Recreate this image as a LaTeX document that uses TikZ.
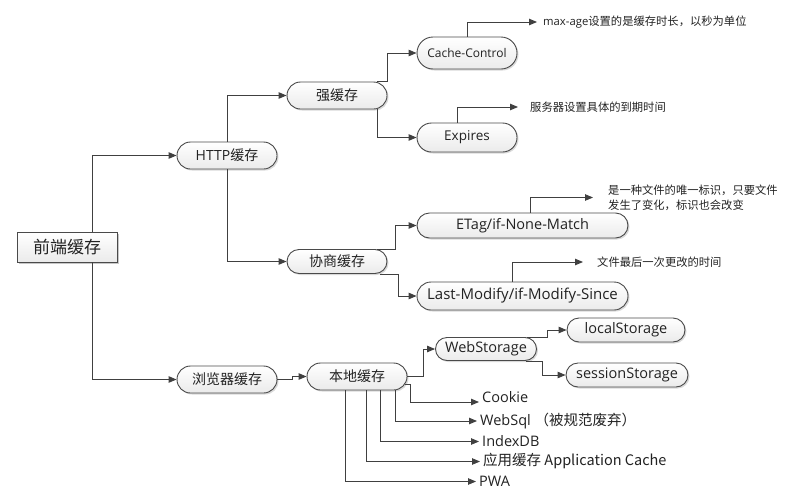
\documentclass[tikz,border=0pt]{standalone}
\usepackage{fontspec}
\setmainfont{Open Sans}
\newfontfamily\cjk{Noto Sans CJK SC}
\usetikzlibrary{shapes.misc,shadows,arrows.meta}
\definecolor{lc}{HTML}{404040}
\definecolor{bd}{HTML}{4A4A4A}
\definecolor{tx}{HTML}{222222}
\tikzset{
  pill/.style={rounded rectangle, draw=bd, line width=0.9pt, top color=white, bottom color=black!8,
    drop shadow={shadow xshift=1.5pt, shadow yshift=-1.5pt, fill=black, opacity=0.15},
    inner sep=0pt, text=tx, font=\fontsize{14}{16}\selectfont},
  rootbox/.style={rectangle, draw=bd, line width=0.9pt, top color=white, bottom color=black!8,
    drop shadow={shadow xshift=2pt, shadow yshift=-2pt, fill=black, opacity=0.22},
    inner sep=0pt, text=tx, font=\fontsize{17}{19}\selectfont},
  conn/.style={draw=lc, line width=0.9pt, -{Triangle[length=8pt,width=6.5pt]}},
  note/.style={anchor=west, inner sep=0pt, text=tx, font=\fontsize{11.3}{15}\selectfont},
  leaf/.style={anchor=west, inner sep=0pt, text=tx, font=\fontsize{14.5}{16}\selectfont},
}
\begin{document}
\begin{tikzpicture}[x=1pt,y=-1pt]
\useasboundingbox (0,0) rectangle (798,501);
% nodes
\node[rootbox, minimum width=100pt, minimum height=30pt] (root) at (67,247) {\cjk 前端缓存};
\node[pill, minimum width=100pt, minimum height=27pt] (http) at (227,155.5) {HTTP\cjk{缓存}};
\node[pill, minimum width=100pt, minimum height=27pt] (strong) at (337,95.5) {\cjk 强缓存};
\node[pill, minimum width=100pt, minimum height=32pt, font=\fontsize{12}{14}\selectfont] (cc) at (467,53) {Cache-Control};
\node[pill, minimum width=100pt, minimum height=29pt, font=\fontsize{13.5}{15}\selectfont] (exp) at (467,137.5) {Expires};
\node[pill, minimum width=100pt, minimum height=24pt] (neg) at (337,261.5) {\cjk 协商缓存};
\node[pill, minimum width=211pt, minimum height=25pt, font=\fontsize{14.5}{16}\selectfont] (etag) at (522.5,225.5) {ETag/if-None-Match};
\node[pill, minimum width=211pt, minimum height=28pt, font=\fontsize{15}{17}\selectfont] (lm) at (522.5,296) {Last-Modify/if-Modify-Since};
\node[pill, minimum width=100pt, minimum height=27pt] (browser) at (227,379.5) {\cjk 浏览器缓存};
\node[pill, minimum width=100pt, minimum height=27pt] (local) at (357,376.5) {\cjk 本地缓存};
\node[pill, minimum width=101pt, minimum height=23pt, font=\fontsize{14.5}{16}\selectfont] (ws) at (486,349) {WebStorage};
\node[pill, minimum width=118pt, minimum height=24pt, font=\fontsize{14.5}{16}\selectfont] (ls) at (626,330) {localStorage};
\node[pill, minimum width=122pt, minimum height=24pt, font=\fontsize{14.5}{16}\selectfont] (ss) at (627,375) {sessionStorage};
% notes
\node[note] (n1) at (543,22) {max-age\cjk{设置的是缓存时长，以秒为单位}};
\node[note] (n2) at (530,107) {\cjk 服务器设置具体的到期时间};
\node[note, align=left] (n3) at (608,197.5) {\cjk 是一种文件的唯一标识，只要文件\\\cjk 发生了变化，标识也会改变};
\node[note] (n4) at (597,262) {\cjk 文件最后一次更改的时间};
% leaves
\node[leaf] (cookie) at (482,397) {Cookie};
\node[leaf] (websql) at (480,421) {WebSql \cjk{（被规范废弃）}};
\node[leaf] (idb) at (482,441.5) {IndexDB};
\node[leaf] (app) at (483,461.5) {\cjk{应用缓存} Application Cache};
\node[leaf] (pwa) at (479,481.5) {PWA};
% connectors
\draw[conn] ([xshift=25pt]root.north) |- (http.west);
\draw[conn] ([xshift=25pt]root.south) |- (browser.west);
\draw[conn] (http.north) |- (strong.west);
\draw[conn] (http.south) |- (neg.west);
\draw[conn] ([xshift=40pt]strong.north) -- ++(10,0) |- (cc.west);
\draw[conn] ([xshift=40pt]strong.south) |- (exp.west);
\draw[conn] (cc.north) |- ([xshift=-6pt]n1.west);
\draw[conn] ([xshift=-10pt]exp.north) |- ([xshift=-12pt]n2.west);
\draw[conn] ([xshift=40pt]neg.north) -- ++(18,0) |- (etag.west);
\draw[conn] ([xshift=43pt]neg.south) -- ++(18,0) |- (lm.west);
\draw[conn] ([xshift=7.5pt]etag.north) |- ([xshift=-15pt]n3.west);
\draw[conn] ([xshift=-10.5pt]lm.north) |- ([xshift=-14pt]n4.west);
\draw[conn] (browser.east) -- ++(15,0) |- (local.west);
\draw[conn] (local.east) -- ++(16,0) |- (ws.west);
\draw[conn] ([xshift=41pt]ws.north) -- ++(20,0) |- (ls.west);
\draw[conn] ([xshift=40pt]ws.south) -- ++(16,0) |- (ss.west);
\draw[conn] ([shift={(-2pt,-8pt)}]local.east) -- ++(5,0) |- ([shift={(-3pt,-5pt)}]cookie.west);
\draw[conn] ([xshift=38pt]local.south) |- ([xshift=-3pt]websql.west);
\draw[conn] ([xshift=23pt]local.south) |- ([xshift=-3pt]idb.west);
\draw[conn] ([xshift=9pt]local.south) |- ([xshift=-3pt]app.west);
\draw[conn] ([xshift=-12pt]local.south) |- ([xshift=-3pt]pwa.west);
\end{tikzpicture}
\end{document}
